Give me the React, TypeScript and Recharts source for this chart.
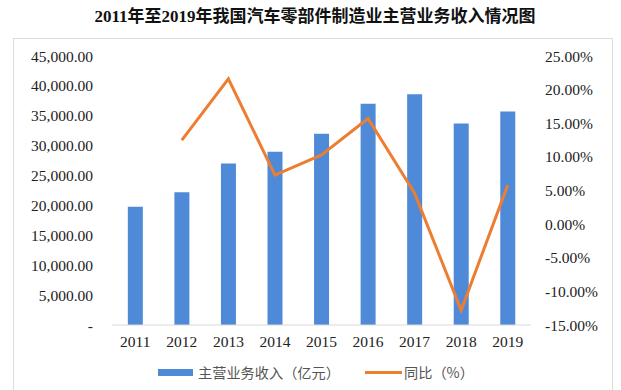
import React from 'react';
import { ComposedChart, Bar, Line, XAxis, YAxis } from 'recharts';

const years = ['2011', '2012', '2013', '2014', '2015', '2016', '2017', '2018', '2019'];
const revenue = [19800, 22200, 27000, 29000, 32000, 37000, 38600, 33700, 35700];
const growth: (number | null)[] = [null, 12.5, 21.6, 7.3, 10.3, 15.7, 4.6, -12.8, 5.8];
const leftTicks = [0, 5000, 10000, 15000, 20000, 25000, 30000, 35000, 40000, 45000];
const rightTicks = [-15, -10, -5, 0, 5, 10, 15, 20, 25];

const title = '2011年至2019年我国汽车零部件制造业主营业务收入情况图';
const barName = '主营业务收入（亿元）';
const lineName = '同比（%）';

const data = years.map((y, i) => ({ year: y, revenue: revenue[i], growth: growth[i] }));

const BLUE = '#4f8ad8';
const ORANGE = '#ed7d31';
const serif = '"Times New Roman", "Liberation Serif", "Noto Sans CJK SC", serif';
const sans = '"Noto Sans CJK SC", "Noto Sans", sans-serif';

const fmtLeft = (v: number) =>
  v === 0 ? '-' : v.toLocaleString('en-US', { minimumFractionDigits: 2, maximumFractionDigits: 2 });
const fmtRight = (v: number) => `${v.toFixed(2)}%`;

const tickStyle = { fontFamily: serif, fontSize: 15.5, fill: '#222' };

const LegendBox = () => (
  <div
    style={{
      position: 'absolute',
      top: 362,
      left: 0,
      width: 621,
      height: 20,
      fontFamily: sans,
      fontSize: 14.2,
      color: '#555',
    }}
  >
    <div style={{ position: 'absolute', left: 158, top: 7, width: 35, height: 7, background: BLUE }} />
    <div style={{ position: 'absolute', left: 198, top: 0, lineHeight: '20px', whiteSpace: 'nowrap' }}>{barName}</div>
    <div style={{ position: 'absolute', left: 365, top: 9, width: 37, height: 3, background: ORANGE }} />
    <div style={{ position: 'absolute', left: 404, top: 0, lineHeight: '20px', whiteSpace: 'nowrap' }}>{lineName}</div>
  </div>
);

export default function App() {
  return (
    <div style={{ position: 'absolute', left: 0, top: 0, width: 621, height: 390, background: '#fff', overflow: 'hidden' }}>
      <div
        style={{
          position: 'absolute',
          left: 0,
          top: 5,
          width: 630,
          textAlign: 'center',
          fontFamily: serif,
          fontWeight: 'bold',
          fontSize: 17,
          lineHeight: '24px',
          color: '#111',
          whiteSpace: 'nowrap',
        }}
      >
        {title}
      </div>
      <div
        style={{
          position: 'absolute',
          left: 13,
          top: 38,
          width: 600,
          height: 360,
          border: '1px solid #dcdcdc',
          boxSizing: 'border-box',
        }}
      />
      <div style={{ position: 'absolute', left: 0, top: 0 }}>
        <ComposedChart
          width={621}
          height={390}
          data={data}
          margin={{ top: 56, right: 0, bottom: 35, left: 0 }}
          barCategoryGap="34%"
        >
          <XAxis
            dataKey="year"
            height={30}
            axisLine={{ stroke: '#d9d9d9' }}
            tickLine={false}
            tickSize={0}
            tickMargin={11}
            tick={tickStyle}
            interval={0}
          />
          <YAxis
            yAxisId="left"
            orientation="left"
            width={112}
            domain={[0, 45000]}
            ticks={leftTicks}
            tickFormatter={fmtLeft}
            axisLine={false}
            tickLine={false}
            tickSize={0}
            tickMargin={19}
            tick={tickStyle}
            interval={0}
          />
          <YAxis
            yAxisId="right"
            orientation="right"
            width={90}
            domain={[-15, 25]}
            ticks={rightTicks}
            tickFormatter={fmtRight}
            axisLine={false}
            tickLine={false}
            tickSize={0}
            tickMargin={14}
            tick={tickStyle}
            interval={0}
          />
          <Bar yAxisId="left" dataKey="revenue" fill={BLUE} isAnimationActive={false} />
          <Line
            yAxisId="right"
            dataKey="growth"
            stroke={ORANGE}
            strokeWidth={3}
            dot={false}
            activeDot={false}
            connectNulls={false}
            isAnimationActive={false}
          />
        </ComposedChart>
      </div>
      <LegendBox />
    </div>
  );
}
